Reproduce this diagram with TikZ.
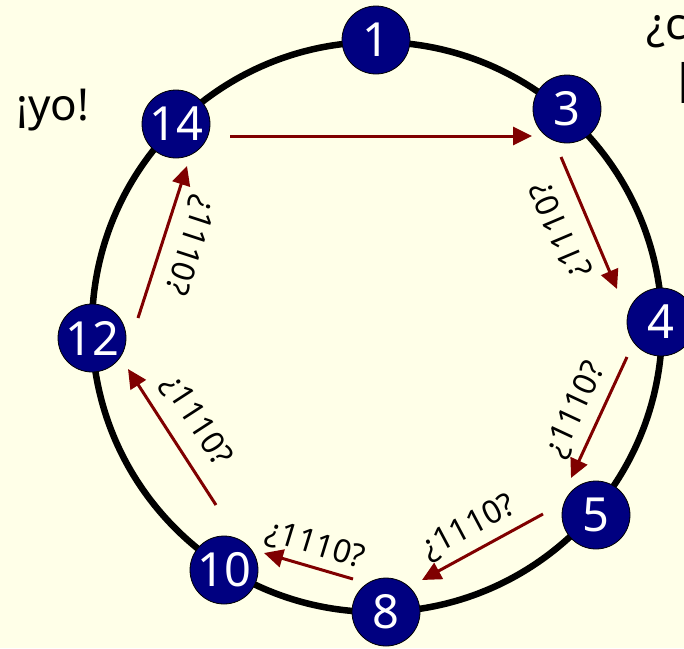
\documentclass[tikz,border=0pt]{standalone}
\usepackage{fontspec}
\setmainfont{Noto Sans}
\usetikzlibrary{arrows.meta}
\definecolor{bgcream}{RGB}{255,255,232}
\definecolor{peerblue}{RGB}{0,0,128}
\definecolor{msgred}{RGB}{128,0,0}
\begin{document}
\begin{tikzpicture}[x=1pt,y=-1pt,
  peer/.style={circle,draw=black,line width=0.8pt,fill=peerblue,text=white,
    minimum size=68pt,inner sep=0pt,font=\fontsize{47}{47}\selectfont},
  msg/.style={draw=msgred,line width=3pt,-{Triangle[length=19pt,width=18pt]}},
  lbl/.style={font=\fontsize{32}{32}\selectfont,inner sep=0pt},
  side/.style={font=\fontsize{44}{44}\selectfont,inner sep=0pt}]
\fill[bgcream] (0,0) rectangle (684,648);
\useasboundingbox (0,0) rectangle (684,648);
\clip (0,0) rectangle (684,648);
\draw[line width=6.5pt] (377,327) circle[radius=285];
% peers
\node[peer] (n1) at (376,40) {1};
\node[peer] (n3) at (567,109) {3};
\node[peer] (n4) at (661,322) {4};
\node[peer] (n5) at (596,515) {5};
\node[peer] (n8) at (386,612) {8};
\node[peer] (n10) at (224,570) {10};
\node[peer] (n12) at (92,338) {12};
\node[peer] (n14) at (176,124) {14};
% arrow ends
\coordinate (s14) at (230,136); \coordinate (t3) at (532,136);
\coordinate (s3) at (561,157); \coordinate (t4) at (617,289);
\coordinate (s4) at (627,357); \coordinate (t5) at (571,478);
\coordinate (s5) at (543,514); \coordinate (t8) at (422,580);
\coordinate (s8) at (353,579); \coordinate (t10) at (264,553);
\coordinate (s10) at (216,505); \coordinate (t12) at (128,369);
\coordinate (s12) at (138,318); \coordinate (t14) at (187,166);
\draw[msg] (s14) -- (t3);
\draw[msg] (s3) -- (t4);
\draw[msg] (s4) -- (t5);
\draw[msg] (s5) -- (t8);
\draw[msg] (s8) -- (t10);
\draw[msg] (s10) -- (t12);
\draw[msg] (s12) -- (t14);
% labels
\node[lbl,rotate=113] (l34) at (561,230) {¿1110?};
\node[lbl,rotate=65] (l45) at (576,410) {¿1110?};
\node[lbl,rotate=28] (l58) at (469,528) {¿1110?};
\node[lbl,rotate=-17] (l810) at (315,546) {¿1110?};
\node[lbl,rotate=-57] (l1012) at (196,421) {¿1110?};
\node[lbl,rotate=-108] (l1214) at (189,245) {¿1110?};
% side texts
\node[side,anchor=west] (yo) at (16,110) {¡yo!};
\node[side,anchor=west] (q1) at (646,32) {¿c};
\node[side,anchor=north west,font=\fontsize{54}{54}\selectfont] (q2) at (677,62) {l};
\end{tikzpicture}
\end{document}
